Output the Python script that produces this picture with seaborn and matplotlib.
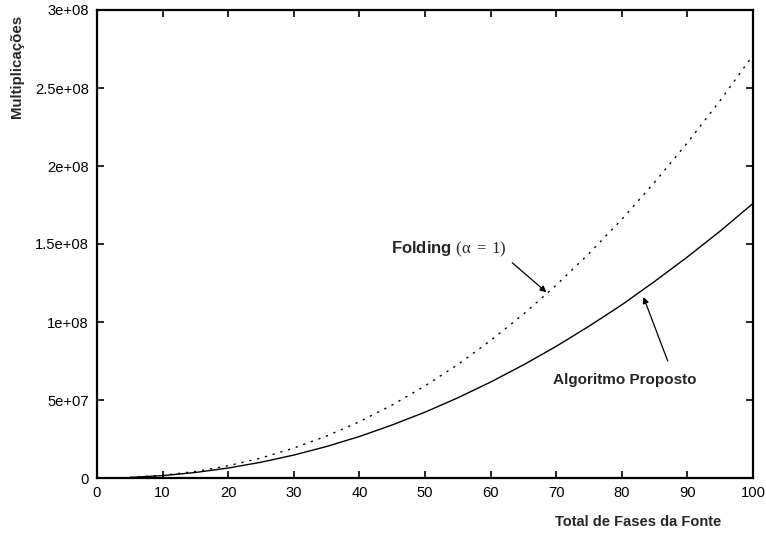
import matplotlib
matplotlib.use("Agg")
import matplotlib.pyplot as plt
import seaborn as sns
import pandas as pd

# Number of source phases
fases = [5, 10, 15, 20, 25, 30, 35, 40, 45, 50, 55, 60, 65, 70, 75, 80, 85, 90, 95, 100]

# Multiplications required by each method
folding = [0.37e6, 1.71e6, 4.17e6, 7.85e6, 12.8e6, 19.2e6, 26.9e6, 36.1e6, 46.8e6, 59.0e6,
           72.7e6, 88.1e6, 105.0e6, 123.6e6, 143.9e6, 165.8e6, 189.6e6, 214.9e6, 242.0e6, 271.0e6]
proposto = [0.37e6, 1.53e6, 3.53e6, 6.39e6, 10.1e6, 14.7e6, 20.2e6, 26.6e6, 34.0e6, 42.2e6,
            51.4e6, 61.5e6, 72.5e6, 84.4e6, 97.3e6, 111.0e6, 126.0e6, 141.7e6, 158.3e6, 176.0e6]

x_ticks = [0, 10, 20, 30, 40, 50, 60, 70, 80, 90, 100]
y_ticks = [0, 5e7, 1e8, 1.5e8, 2e8, 2.5e8, 3e8]
y_tick_labels = ["0", "5e+07", "1e+08", "1.5e+08", "2e+08", "2.5e+08", "3e+08"]

sns.set_style("white")
plt.rcParams["font.family"] = ["Liberation Sans", "DejaVu Sans"]
plt.rcParams["mathtext.fontset"] = "custom"
plt.rcParams["mathtext.rm"] = "Liberation Serif"
plt.rcParams["mathtext.it"] = "Liberation Serif"
plt.rcParams["mathtext.bf"] = "Liberation Sans:bold"

df = pd.DataFrame({"fases": fases, "folding": folding, "proposto": proposto})

fig = plt.figure(figsize=(7.66, 5.38), dpi=100)
ax = fig.add_axes([97 / 766, 1 - 478 / 538, (753 - 97) / 766, (478 - 10) / 538])

sns.lineplot(data=df, x="fases", y="folding", ax=ax, color="black", linewidth=1.0,
             linestyle=(0, (1.6, 4.2)))
sns.lineplot(data=df, x="fases", y="proposto", ax=ax, color="black", linewidth=1.0)

ax.set_xlim(0, 100)
ax.set_ylim(0, 3e8)
ax.set_xticks(x_ticks)
ax.set_xticklabels([str(t) for t in x_ticks])
ax.set_yticks(y_ticks)
ax.set_yticklabels(y_tick_labels)
ax.set_xlabel("")
ax.set_ylabel("")

for side in ax.spines.values():
    side.set_color("black")
    side.set_linewidth(1.6)

ax.tick_params(axis="both", which="major", direction="in", length=5, width=1.2,
               top=True, right=True, bottom=True, left=True,
               labelsize=10.6, colors="black", pad=6)

# Axis titles
fig.text(721 / 766, 1 - 522 / 538, "Total de Fases da Fonte", ha="right", va="center",
         fontsize=10.5, fontweight="bold")
fig.text(17 / 766, 1 - 66 / 538, "Multiplicações", ha="center", va="center",
         rotation=90, fontsize=10.8, fontweight="bold")

# Curve annotations
ax.annotate("", xy=(68.5, folding[13] - 4.5e6), xytext=(63.3, 1.38e8),
            arrowprops=dict(arrowstyle="-|>", color="black", lw=0.9,
                            mutation_scale=9, shrinkA=0, shrinkB=0))
ax.text(62.5, 1.465e8, r"$\mathbf{Folding}$ $(\alpha\;=\;1)$", ha="right", va="center",
        fontsize=12)

ax.annotate("", xy=(83.3, 1.16e8), xytext=(87.0, 0.75e8),
            arrowprops=dict(arrowstyle="-|>", color="black", lw=0.9,
                            mutation_scale=9, shrinkA=0, shrinkB=0))
ax.text(69.5, 0.63e8, "Algoritmo Proposto", ha="left", va="center",
        fontsize=11, fontweight="bold")

fig.savefig("out.png", dpi=100)
